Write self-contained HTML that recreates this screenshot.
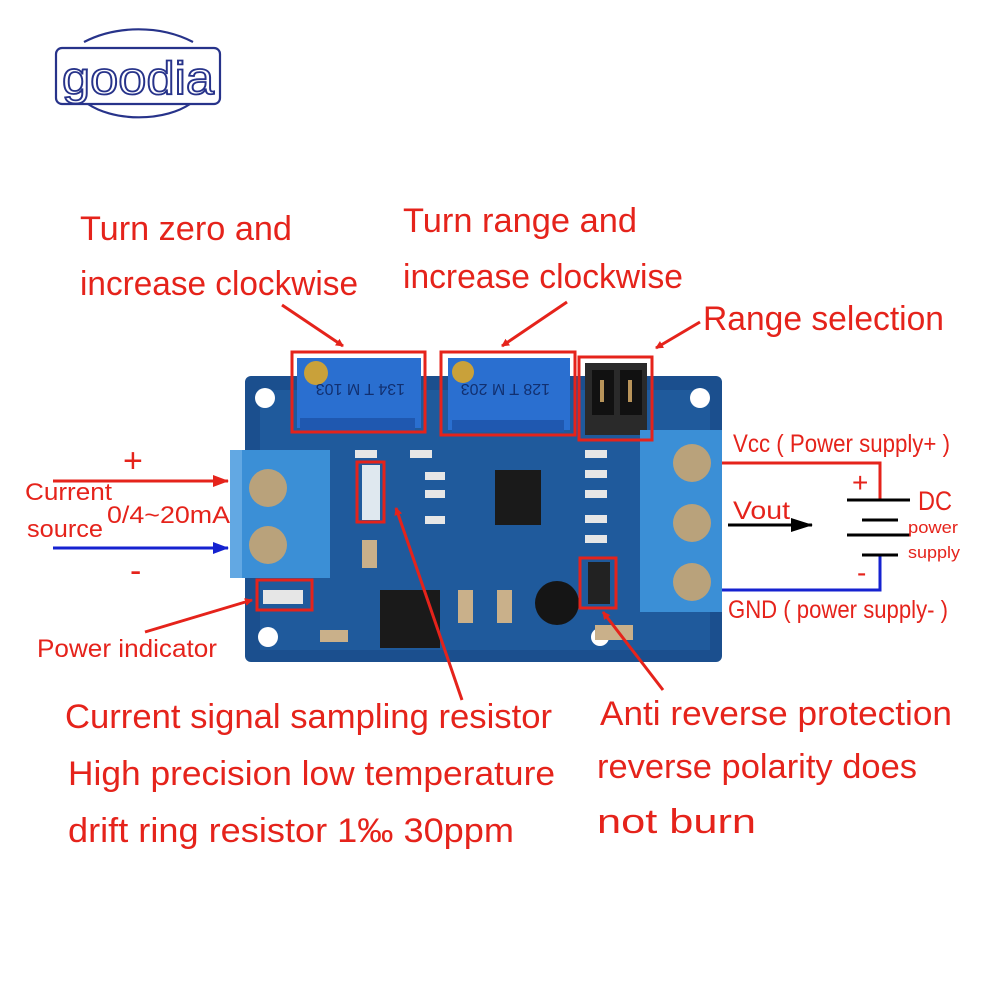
<!DOCTYPE html>
<html><head><meta charset="utf-8"><style>
body{margin:0;background:#fff}
svg{display:block}
text{font-family:"Liberation Sans",sans-serif;fill:#e5231b}
</style></head><body>
<svg width="1000" height="1000" viewBox="0 0 1000 1000" xmlns="http://www.w3.org/2000/svg">
<defs>
<marker id="ar" markerWidth="8" markerHeight="8" refX="7" refY="4" orient="auto" markerUnits="userSpaceOnUse"><path d="M0,0 L8,4 L0,8z" fill="#e5231b"/></marker>
<marker id="ar2" markerWidth="16" markerHeight="12" refX="15" refY="6" orient="auto" markerUnits="userSpaceOnUse"><path d="M0,0 L16,6 L0,12z" fill="#e5231b"/></marker>
<marker id="ab" markerWidth="16" markerHeight="12" refX="15" refY="6" orient="auto" markerUnits="userSpaceOnUse"><path d="M0,0 L16,6 L0,12z" fill="#1522d0"/></marker>
<marker id="ak" markerWidth="22" markerHeight="14" refX="21" refY="7" orient="auto" markerUnits="userSpaceOnUse"><path d="M0,0 L22,7 L0,14z" fill="#000"/></marker>
</defs>
<g fill="none" stroke="#27338a" stroke-width="2.2">
<path d="M84,42 A95,70 0 0 1 193,42"/>
<rect x="56" y="48" width="164" height="56" rx="6"/>
<path d="M88,104 A65,35 0 0 0 190,104"/>
</g>
<text x="62" y="94" style="font-size:46px;fill:none;stroke:#27338a;stroke-width:1.8" textLength="152" lengthAdjust="spacingAndGlyphs">goodia</text>

<rect x="245" y="376" width="477" height="286" rx="6" fill="#1b4f8e"/>
<rect x="260" y="390" width="450" height="260" fill="#1f5a9c"/>
<circle cx="265" cy="398" r="10" fill="#fff"/><circle cx="700" cy="398" r="10" fill="#fff"/>
<circle cx="268" cy="637" r="10" fill="#fff"/><circle cx="600" cy="637" r="9" fill="#fff"/>
<rect x="297" y="358" width="124" height="70" fill="#2a6fd0"/><rect x="300" y="418" width="115" height="14" fill="#1f58b0"/>
<circle cx="316" cy="373" r="12" fill="#c9a13a"/>
<rect x="448" y="358" width="122" height="72" fill="#2a6fd0"/><rect x="452" y="420" width="112" height="12" fill="#1f58b0"/>
<circle cx="463" cy="372" r="11" fill="#c9a13a"/>
<text x="335" y="392" style="font-size:16px;fill:#123070" transform="rotate(180 370 388)">134 T M 103</text>
<text x="480" y="392" style="font-size:16px;fill:#123070" transform="rotate(180 515 388)">128 T M 203</text>
<rect x="585" y="363" width="62" height="72" fill="#2a2a2a"/>
<rect x="592" y="370" width="22" height="45" fill="#111"/><rect x="620" y="370" width="22" height="45" fill="#111"/>
<g fill="#b8945a"><rect x="600" y="380" width="4" height="22"/><rect x="628" y="380" width="4" height="22"/></g>
<rect x="495" y="470" width="46" height="55" fill="#1a1a1a"/>
<rect x="380" y="590" width="60" height="58" fill="#1a1a1a"/>
<circle cx="557" cy="603" r="22" fill="#151515"/>
<rect x="588" y="562" width="22" height="42" fill="#222"/>
<g fill="#c9b08a"><rect x="362" y="540" width="15" height="28"/><rect x="458" y="590" width="15" height="33"/><rect x="497" y="590" width="15" height="33"/><rect x="595" y="625" width="38" height="15"/><rect x="320" y="630" width="28" height="12"/></g>
<g fill="#e6e6e6"><rect x="355" y="450" width="22" height="8"/><rect x="410" y="450" width="22" height="8"/><rect x="425" y="472" width="20" height="8"/><rect x="425" y="490" width="20" height="8"/><rect x="425" y="516" width="20" height="8"/><rect x="585" y="450" width="22" height="8"/><rect x="585" y="470" width="22" height="8"/><rect x="585" y="490" width="22" height="8"/><rect x="585" y="515" width="22" height="8"/><rect x="585" y="535" width="22" height="8"/><rect x="263" y="590" width="40" height="14"/></g>
<rect x="362" y="465" width="18" height="55" fill="#dfe8ef"/>
<rect x="230" y="450" width="100" height="128" fill="#3b8fd6"/>
<rect x="230" y="450" width="12" height="128" fill="#62a8e3"/>
<circle cx="268" cy="488" r="19" fill="#b9a27b"/><circle cx="268" cy="545" r="19" fill="#b9a27b"/>
<rect x="640" y="430" width="82" height="182" fill="#3b8fd6"/>
<circle cx="692" cy="463" r="19" fill="#b9a27b"/><circle cx="692" cy="523" r="19" fill="#b9a27b"/><circle cx="692" cy="582" r="19" fill="#b9a27b"/>
<g fill="none" stroke="#e5231b" stroke-width="3">
<rect x="292" y="352" width="133" height="80"/><rect x="441" y="352" width="134" height="83"/><rect x="579" y="357" width="73" height="83"/>
<rect x="357" y="462" width="27" height="60"/><rect x="257" y="580" width="55" height="30"/><rect x="580" y="558" width="36" height="50"/>
</g>
<g stroke="#e5231b" stroke-width="3" fill="none">
<line x1="282" y1="305" x2="343" y2="346" marker-end="url(#ar)"/>
<line x1="567" y1="302" x2="502" y2="346" marker-end="url(#ar)"/>
<line x1="700" y1="322" x2="656" y2="348" marker-end="url(#ar)"/>
<line x1="462" y1="700" x2="396" y2="508" marker-end="url(#ar)"/>
<line x1="663" y1="690" x2="603" y2="612" marker-end="url(#ar)"/>
<line x1="145" y1="632" x2="252" y2="600" marker-end="url(#ar)"/>
<line x1="53" y1="481" x2="228" y2="481" marker-end="url(#ar2)"/>
<polyline points="722,463 880,463 880,500"/>
</g>
<line x1="53" y1="548" x2="228" y2="548" stroke="#1522d0" stroke-width="3" marker-end="url(#ab)"/>
<polyline points="880,555 880,590 722,590" stroke="#1522d0" stroke-width="3" fill="none"/>
<line x1="728" y1="525" x2="812" y2="525" stroke="#000" stroke-width="3" marker-end="url(#ak)"/>
<g stroke="#000" stroke-width="3"><line x1="847" y1="500" x2="910" y2="500"/><line x1="862" y1="520" x2="898" y2="520"/><line x1="847" y1="535" x2="910" y2="535"/><line x1="862" y1="555" x2="898" y2="555"/></g>
<g style="font-size:34px">
<text x="80" y="240" textLength="212" lengthAdjust="spacingAndGlyphs">Turn zero and</text>
<text x="80" y="295" textLength="278" lengthAdjust="spacingAndGlyphs">increase clockwise</text>
<text x="403" y="232" textLength="234" lengthAdjust="spacingAndGlyphs">Turn range and</text>
<text x="403" y="288" textLength="280" lengthAdjust="spacingAndGlyphs">increase clockwise</text>
<text x="703" y="330" textLength="241" lengthAdjust="spacingAndGlyphs">Range selection</text>
<text x="65" y="728" textLength="487" lengthAdjust="spacingAndGlyphs">Current signal sampling resistor</text>
<text x="68" y="785" textLength="487" lengthAdjust="spacingAndGlyphs">High precision low temperature</text>
<text x="68" y="842" textLength="446" lengthAdjust="spacingAndGlyphs">drift ring resistor 1‰ 30ppm</text>
<text x="600" y="725" textLength="352" lengthAdjust="spacingAndGlyphs">Anti reverse protection</text>
<text x="597" y="778" textLength="320" lengthAdjust="spacingAndGlyphs">reverse polarity does</text>
<text x="597" y="833" textLength="159" lengthAdjust="spacingAndGlyphs">not burn</text>
</g>
<text x="123" y="472" style="font-size:34px">+</text>
<text x="130" y="582" style="font-size:34px">-</text>
<text x="25" y="500" style="font-size:24px" textLength="87" lengthAdjust="spacingAndGlyphs">Current</text>
<text x="27" y="537" style="font-size:24px" textLength="76" lengthAdjust="spacingAndGlyphs">source</text>
<text x="107" y="523" style="font-size:24px" textLength="123" lengthAdjust="spacingAndGlyphs">0/4~20mA</text>
<text x="37" y="657" style="font-size:25px" textLength="180" lengthAdjust="spacingAndGlyphs">Power indicator</text>
<text x="733" y="452" style="font-size:25px" textLength="217" lengthAdjust="spacingAndGlyphs">Vcc ( Power supply+ )</text>
<text x="728" y="618" style="font-size:25px" textLength="220" lengthAdjust="spacingAndGlyphs">GND ( power supply- )</text>
<text x="733" y="519" style="font-size:25px" textLength="57" lengthAdjust="spacingAndGlyphs">Vout</text>
<text x="852" y="492" style="font-size:28px">+</text>
<text x="857" y="582" style="font-size:28px">-</text>
<text x="918" y="510" style="font-size:27px" textLength="34" lengthAdjust="spacingAndGlyphs">DC</text>
<text x="908" y="533" style="font-size:17px" textLength="50" lengthAdjust="spacingAndGlyphs">power</text>
<text x="908" y="558" style="font-size:17px" textLength="52" lengthAdjust="spacingAndGlyphs">supply</text>
</svg>
</body></html>
